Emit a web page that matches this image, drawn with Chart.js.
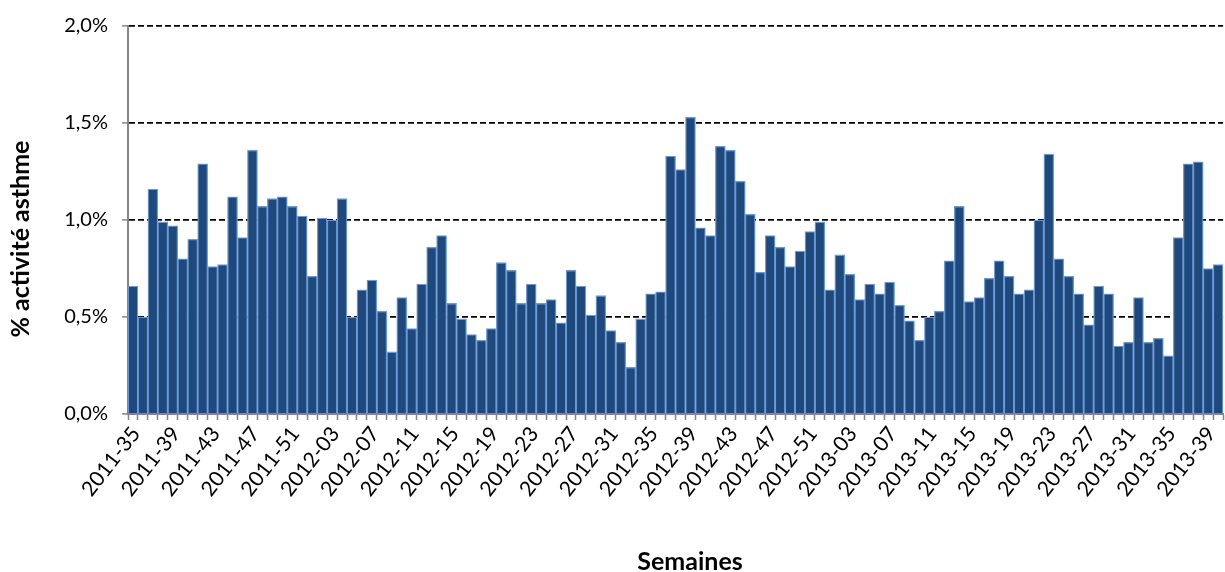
<!DOCTYPE html>
<html lang="fr">
<head>
<meta charset="utf-8">
<title>% activité asthme</title>
<script src="https://cdn.jsdelivr.net/npm/chart.js@4.4.0/dist/chart.umd.min.js"></script>
<style>
  html, body { margin: 0; padding: 0; background: #fff; overflow: hidden; }
  #wrap { width: 1240px; height: 572px; }
</style>
</head>
<body>
<div id="wrap"><canvas id="asthmeChart" width="1240" height="572"></canvas></div>
<script>
// Semaines affichées : 2011-35 à 2013-40
const semaines2011 = { annee: 2011, debut: 35, fin: 52 };
const semaines2012 = { annee: 2012, debut: 1, fin: 52 };
const semaines2013 = { annee: 2013, debut: 1, fin: 40 };

// % activité asthme par semaine
const valeurs2011 = [0.66, 0.50, 1.16, 0.99, 0.97, 0.80, 0.90, 1.29, 0.76, 0.77,
                     1.12, 0.91, 1.36, 1.07, 1.11, 1.12, 1.07, 1.02];
const valeurs2012 = [0.71, 1.01, 1.00, 1.11, 0.50, 0.64, 0.69, 0.53, 0.32, 0.60,
                     0.44, 0.67, 0.86, 0.92, 0.57, 0.49, 0.41, 0.38, 0.44, 0.78,
                     0.74, 0.57, 0.67, 0.57, 0.59, 0.47, 0.74, 0.66, 0.51, 0.61,
                     0.43, 0.37, 0.24, 0.49, 0.62, 0.63, 1.33, 1.26, 1.53, 0.96,
                     0.92, 1.38, 1.36, 1.20, 1.03, 0.73, 0.92, 0.86, 0.76, 0.84,
                     0.94, 0.99];
const valeurs2013 = [0.64, 0.82, 0.72, 0.59, 0.67, 0.62, 0.68, 0.56, 0.48, 0.38,
                     0.50, 0.53, 0.79, 1.07, 0.58, 0.60, 0.70, 0.79, 0.71, 0.62,
                     0.64, 1.00, 1.34, 0.80, 0.71, 0.62, 0.46, 0.66, 0.62, 0.35,
                     0.37, 0.60, 0.37, 0.39, 0.30, 0.91, 1.29, 1.30, 0.75, 0.77];

// Graduations de l'axe Y (en %)
const graduationsY = [0, 0.5, 1.0, 1.5, 2.0];

const titreX = 'Semaines';
const titreY = '% activité asthme';

// Construit les libellés "AAAA-SS"
function libellesSemaines(plage) {
    const res = [];
    for (let s = plage.debut; s <= plage.fin; s++) {
        res.push(plage.annee + '-' + String(s).padStart(2, '0'));
    }
    return res;
}

const semaines = [
    ...libellesSemaines(semaines2011),
    ...libellesSemaines(semaines2012),
    ...libellesSemaines(semaines2013)
];
const valeurs = [...valeurs2011, ...valeurs2012, ...valeurs2013];

// Titres des axes, placés comme dans l'original
const titresAxes = {
    id: 'titresAxes',
    afterDraw(chart) {
        const ctx = chart.ctx;
        ctx.save();
        ctx.fillStyle = '#000';
        ctx.font = 'bold 25px Lato';
        ctx.textAlign = 'center';
        ctx.textBaseline = 'middle';
        ctx.fillText(titreX, 690, 562);
        ctx.translate(21, 239);
        ctx.rotate(-Math.PI / 2);
        ctx.fillText(titreY, 0, 0);
        ctx.restore();
    }
};

function dessiner() {
    const ctx = document.getElementById('asthmeChart');

    new Chart(ctx, {
        type: 'bar',
        data: {
            labels: semaines,
            datasets: [{
                label: titreY,
                data: valeurs,
                backgroundColor: '#1F497D',
                borderColor: '#6A9BD6',
                borderWidth: 1.3,
                barPercentage: 1,
                categoryPercentage: 1
            }]
        },
        options: {
            responsive: false,
            animation: false,
            devicePixelRatio: 1,
            layout: { padding: { left: 0, right: 8, top: 22, bottom: 0 } },
            plugins: {
                legend: { display: false },
                tooltip: { enabled: false }
            },
            scales: {
                x: {
                    offset: true,
                    grid: {
                        offset: true,
                        drawOnChartArea: false,
                        color: '#868686',
                        tickColor: '#868686',
                        tickLength: 6,
                        tickWidth: 1.5
                    },
                    border: { color: '#868686', width: 2 },
                    ticks: {
                        autoSkip: false,
                        minRotation: 52,
                        maxRotation: 52,
                        padding: 2,
                        labelOffset: 3,
                        color: '#000',
                        font: { family: 'Lato', size: 21 },
                        callback: function(value, index) {
                            return index % 4 === 0 ? semaines[index] : '';
                        }
                    },
                    afterFit: function(scale) { scale.height = 158; }
                },
                y: {
                    min: graduationsY[0],
                    max: graduationsY[graduationsY.length - 1],
                    afterBuildTicks: function(scale) {
                        scale.ticks = graduationsY.map(v => ({ value: v }));
                    },
                    grid: {
                        color: function(c) {
                            return c.tick && c.tick.value === 0 ? 'rgba(0,0,0,0)' : '#000';
                        },
                        lineWidth: 1.8,
                        tickColor: '#868686',
                        tickLength: 6,
                        tickWidth: 1.5,
                        tickBorderDash: []
                    },
                    border: { color: '#868686', width: 2, dash: [6, 3] },
                    ticks: {
                        padding: 14,
                        color: '#000',
                        font: { family: 'Lato', size: 20 },
                        callback: function(value) {
                            return value.toFixed(1).replace('.', ',') + '%';
                        }
                    },
                    afterFit: function(scale) { scale.width = 128; }
                }
            }
        },
        plugins: [titresAxes]
    });
}

Promise.all([
    document.fonts.load('20px Lato'),
    document.fonts.load('21px Lato'),
    document.fonts.load('bold 25px Lato')
]).then(dessiner, dessiner);
</script>
</body>
</html>
